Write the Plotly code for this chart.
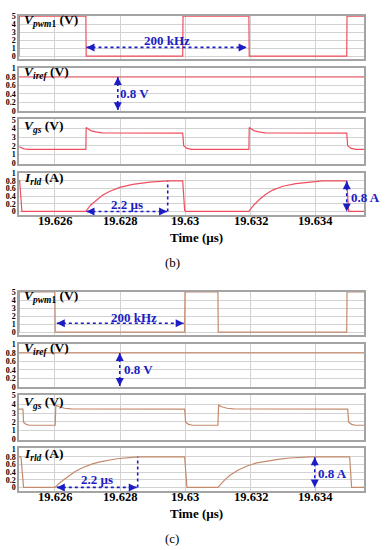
import plotly.graph_objects as go

# ---------------- data ----------------
x_tickvals = [19.626, 19.628, 19.630, 19.632, 19.634]
x_ticktext = ["19.626", "19.628", "19.63", "19.632", "19.634"]
x_range = [19.62490, 19.63548]

# (b) waveforms
b_pwm_t = [19.62490, 19.62491, 19.62695, 19.62696, 19.62992, 19.62993, 19.63195, 19.63196, 19.63495, 19.63496, 19.63550]
b_pwm_v = [0, 5, 5, 0, 0, 5, 5, 0, 0, 5, 5]
b_iref_t = [19.62490, 19.63550]
b_iref_v = [0.8, 0.8]
b_vgs_t = [19.62490, 19.62498, 19.62505, 19.62520, 19.62695, 19.62696, 19.62710, 19.62725, 19.62745, 19.62992,
           19.62995, 19.63005, 19.63020, 19.63195, 19.63196, 19.63210, 19.63225, 19.63245, 19.63495,
           19.63498, 19.63508, 19.63523, 19.63550]
b_vgs_v = [1.9, 1.8, 1.65, 1.6, 1.6, 4.1, 3.75, 3.6, 3.5, 3.45,
           2.0, 1.7, 1.6, 1.6, 4.1, 3.75, 3.6, 3.5, 3.45,
           2.0, 1.7, 1.6, 1.6]
b_irld_t = [19.62490, 19.62492, 19.62499, 19.62695, 19.62710, 19.62729, 19.62747, 19.62769, 19.62799, 19.62839,
            19.62891, 19.62946, 19.62992, 19.62998, 19.63001, 19.63195, 19.63210, 19.63228, 19.63247, 19.63268,
            19.63299, 19.63339, 19.63382, 19.63421, 19.63495, 19.63501, 19.63550]
b_irld_v = [0.8, 0.8, 0.0, 0.0, 0.17, 0.31, 0.43, 0.53, 0.63, 0.71,
            0.77, 0.80, 0.80, 0.03, 0.0, 0.0, 0.17, 0.32, 0.45, 0.56,
            0.66, 0.73, 0.77, 0.80, 0.80, 0.0, 0.0]

# (c) waveforms
c_pwm_t = [19.62490, 19.62491, 19.62600, 19.62601, 19.62998, 19.62999, 19.63100, 19.63101, 19.63495, 19.63496, 19.63550]
c_pwm_v = [0, 5, 5, 0, 0, 5, 5, 0, 0, 5, 5]
c_iref_t = [19.62490, 19.63550]
c_iref_v = [0.8, 0.8]
c_vgs_t = [19.62490, 19.62502, 19.62504, 19.62512, 19.62522, 19.62601, 19.62603, 19.62615, 19.62630, 19.62650,
           19.62998, 19.63001, 19.63010, 19.63022, 19.63100, 19.63102, 19.63114, 19.63128, 19.63148,
           19.63498, 19.63501, 19.63510, 19.63522, 19.63550]
c_vgs_v = [3.45, 3.45, 1.95, 1.7, 1.6, 1.6, 3.9, 3.7, 3.55, 3.47,
           3.45, 1.95, 1.7, 1.6, 1.6, 3.9, 3.7, 3.55, 3.47,
           3.45, 1.95, 1.7, 1.6, 1.6]
c_irld_t = [19.62490, 19.62496, 19.62504, 19.62600, 19.62618, 19.62637, 19.62661, 19.62686, 19.62713, 19.62738,
            19.62790, 19.62854, 19.62998, 19.63005, 19.63100, 19.63118, 19.63136, 19.63161, 19.63189, 19.63219,
            19.63250, 19.63290, 19.63320, 19.63382, 19.63504, 19.63510, 19.63550]
c_irld_v = [0.8, 0.8, 0.0, 0.0, 0.14, 0.26, 0.41, 0.52, 0.61, 0.67,
            0.75, 0.80, 0.80, 0.0, 0.0, 0.17, 0.31, 0.45, 0.56, 0.64,
            0.69, 0.74, 0.77, 0.80, 0.80, 0.0, 0.0]

# annotation data (arrow endpoints in data units)
b_freq_arrow = dict(x0=19.62697, x1=19.63188, y=1.1)
b_vref_arrow = dict(x=19.62793, y0=0.8, y1=0.02)
b_rise_arrow = dict(x0=19.62697, x1=19.62944, y=0.0, vx=19.62946, vtop=0.8)
b_amp_arrow = dict(x=19.63495, y0=0.79, y1=0.0)
c_freq_arrow = dict(x0=19.62606, x1=19.62995, y=1.1)
c_vref_arrow = dict(x=19.62799, y0=0.8, y1=0.02)
c_rise_arrow = dict(x0=19.62606, x1=19.62851, y=0.0, vx=19.62854, vtop=0.8)
c_amp_arrow = dict(x=19.63397, y0=0.79, y1=0.0)

W, H = 386, 550
PX_L, PX_R = 19, 364
panel_px = [(12, 56), (65, 109), (117, 162), (171, 214),
            (292, 336), (345, 389), (397, 442), (451, 494)]
kinds = ["pwm", "iref", "vgs", "irld"] * 2
yranges = {"pwm": [-0.37, 5.03], "iref": [-0.01, 1.01], "vgs": [-0.05, 5.05], "irld": [-0.09, 1.02]}
ydtick = {"pwm": 1, "iref": 0.2, "vgs": 1, "irld": 0.2}

RED = "#f04e5e"
TAN = "#c48a6c"
BLUE = "#1c1cc4"
GRID = "#d2d2d2"
BOX = "#a4a4a4"
SERIF = "Liberation Serif"

def fx(px):
    return px / W

def fy(px):
    return 1 - px / H

fig = go.Figure()
series = [(b_pwm_t, b_pwm_v), (b_iref_t, b_iref_v), (b_vgs_t, b_vgs_v), (b_irld_t, b_irld_v),
          (c_pwm_t, c_pwm_v), (c_iref_t, c_iref_v), (c_vgs_t, c_vgs_v), (c_irld_t, c_irld_v)]
for i, (t, v) in enumerate(series):
    n = "" if i == 0 else str(i + 1)
    fig.add_trace(go.Scatter(x=t, y=v, mode="lines", xaxis="x" + n, yaxis="y" + n,
                             line=dict(color=RED if i < 4 else TAN, width=1.2),
                             hoverinfo="skip", showlegend=False))

layout = dict(width=W, height=H, margin=dict(l=0, r=0, t=0, b=0, pad=0),
              paper_bgcolor="white", plot_bgcolor="white", showlegend=False)
for i, (top, bot) in enumerate(panel_px):
    n = "" if i == 0 else str(i + 1)
    k = kinds[i]
    layout["xaxis" + n] = dict(domain=[fx(PX_L), fx(PX_R)], anchor="y" + n, range=x_range,
                               tickvals=x_tickvals, showticklabels=False, ticks="",
                               showgrid=True, gridcolor=GRID, gridwidth=1, zeroline=False,
                               showline=True, mirror=True, linecolor=BOX, linewidth=1.5)
    layout["yaxis" + n] = dict(domain=[fy(bot), fy(top)], anchor="x" + n, range=yranges[k],
                               dtick=ydtick[k], tick0=0, ticks="",
                               tickfont=dict(family=SERIF, size=8, color="black", weight="bold"),
                               showgrid=True, gridcolor=GRID, gridwidth=1, zeroline=False,
                               showline=True, mirror=True, linecolor=BOX, linewidth=1.5)
fig.update_layout(**layout)

shapes = []
anns = []

def dotted(x0, y0, x1, y1, ax):
    n = "" if ax == 1 else str(ax)
    shapes.append(dict(type="line", xref="x" + n, yref="y" + n, x0=x0, y0=y0, x1=x1, y1=y1,
                       line=dict(color=BLUE, width=1.6, dash="dot")))

def head(x, y, dx, dy, ax):
    n = "" if ax == 1 else str(ax)
    anns.append(dict(xref="x" + n, yref="y" + n, x=x, y=y, ax=dx, ay=dy, text="",
                     showarrow=True, arrowhead=2, arrowsize=1, arrowwidth=1.6, arrowcolor=BLUE))

def label(text, px, py, size=13, color=BLUE, bold=True, xanchor="center"):
    anns.append(dict(xref="paper", yref="paper", x=fx(px), y=fy(py), text=(f"<b>{text}</b>" if bold else text),
                     showarrow=False, xanchor=xanchor, yanchor="middle",
                     font=dict(family=SERIF, size=size, color=color)))

for off, fa, va, ra, aa, base, txt in [
        (0, b_freq_arrow, b_vref_arrow, b_rise_arrow, b_amp_arrow, 1,
         dict(freq=(167, 37), vref=(134, 91), rise=(127, 203), amp=(365, 196))),
        (280, c_freq_arrow, c_vref_arrow, c_rise_arrow, c_amp_arrow, 5,
         dict(freq=(134, 318), vref=(138, 371), rise=(97, 483), amp=(332, 476)))]:
    p1, p2, p4 = base, base + 1, base + 3
    dotted(fa["x0"], fa["y"], fa["x1"], fa["y"], p1)
    head(fa["x0"], fa["y"], 6, 0, p1)
    head(fa["x1"], fa["y"], -6, 0, p1)
    dotted(va["x"], va["y0"], va["x"], va["y1"], p2)
    head(va["x"], va["y0"], 0, 6, p2)
    head(va["x"], va["y1"], 0, -6, p2)
    dotted(ra["x0"], ra["y"], ra["x1"], ra["y"], p4)
    head(ra["x0"], ra["y"], 6, 0, p4)
    head(ra["x1"], ra["y"], -6, 0, p4)
    dotted(ra["vx"], ra["y"], ra["vx"], ra["vtop"], p4)
    dotted(aa["x"], aa["y0"], aa["x"], aa["y1"], p4)
    head(aa["x"], aa["y0"], 0, 6, p4)
    head(aa["x"], aa["y1"], 0, -6, p4)
    label("200 kHz", *txt["freq"])
    label("0.8 V", *txt["vref"])
    label("2.2 µs", *txt["rise"])
    label("0.8 A", *txt["amp"])
    label("<i>V</i><sub><i>pwm</i>1</sub> (V)", 22, 17 + off, size=13.5, color="black", xanchor="left")
    label("<i>V</i><sub><i>iref</i></sub> (V)", 22, 70 + off, size=13.5, color="black", xanchor="left")
    label("<i>V</i><sub><i>gs</i></sub> (V)", 22, 124 + off, size=13.5, color="black", xanchor="left")
    label("<i>I</i><sub><i>rld</i></sub> (A)", 22, 177 + off, size=13.5, color="black", xanchor="left")
    label("Time (µs)", 196, 237 + off, size=13, color="black")
    nx = str(p4)
    for tv, tt in zip(x_tickvals, x_ticktext):
        anns.append(dict(xref="x" + nx, yref="paper", x=tv, y=fy(220 + off), text=f"<b>{tt}</b>",
                         showarrow=False, xanchor="center", yanchor="middle",
                         font=dict(family=SERIF, size=12.5, color="black")))

label("(b)", 172, 262, size=13, color="black", bold=False)
label("(c)", 172, 542, size=13, color="black", bold=False)

fig.update_layout(shapes=shapes, annotations=anns)
fig.write_html("out.html", config={"displayModeBar": False},
               post_script="document.body.style.margin='0px';")
